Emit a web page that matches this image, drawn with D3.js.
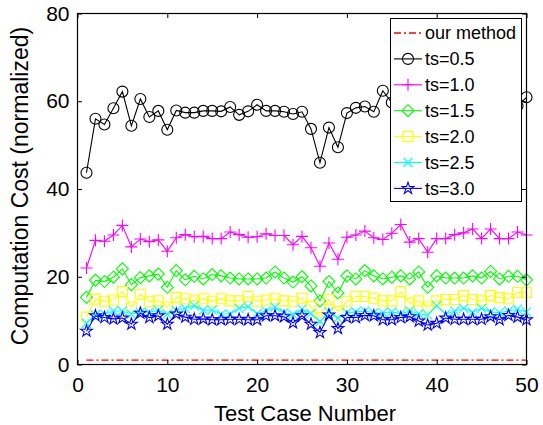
<!DOCTYPE html>
<html>
<head>
<meta charset="utf-8">
<style>
  body { margin: 0; background: #fff; }
  svg text { font-family: "Liberation Sans", Arial, Helvetica, sans-serif; fill: #000; }
</style>
</head>
<body>
<div id="chart"></div>
<script src="https://cdn.jsdelivr.net/npm/d3@7"></script>
<script>
// test cases 1..50
var testCases = d3.range(1, 51);

var ourMethod = testCases.map(function() { return 1; });

var ts05 = [43.7,56.0,54.7,58.4,62.2,54.4,60.5,56.4,57.8,53.5,57.9,57.4,57.4,57.8,57.8,57.7,58.7,56.9,57.7,59.2,
            57.8,57.8,57.6,57.1,57.6,53.7,46.0,54.0,49.5,57.3,58.5,58.8,57.6,62.4,59.7,58.5,59.2,57.8,58.0,57.5,
            58.3,59.0,58.2,57.9,58.6,59.3,58.4,57.8,58.9,60.9];
var ts10 = [22.0,28.3,28.1,29.5,31.7,26.8,28.6,28.0,28.4,25.8,28.9,29.6,29.1,29.2,28.7,28.7,30.2,29.6,29.0,29.1,
            29.8,29.4,29.4,27.3,29.2,26.6,22.4,27.7,24.0,29.0,29.5,30.4,28.9,28.5,29.9,31.9,27.9,28.7,25.6,28.7,
            28.7,29.6,30.0,30.9,28.7,30.9,28.7,28.7,30.2,29.5];
var ts15 = [15.3,19.2,18.9,19.9,21.8,18.2,19.8,20.2,20.6,17.6,21.4,19.3,20.1,19.5,20.5,20.2,19.7,19.5,19.5,19.5,
            19.7,21.1,19.7,18.8,20.0,17.9,14.5,18.9,16.3,20.2,19.5,21.4,20.2,19.5,19.9,20.2,19.5,21.1,17.6,20.2,
            19.7,19.7,19.7,20.2,19.7,21.2,19.5,20.1,20.1,19.3];
var ts20 = [10.8,14.9,14.4,14.7,16.6,13.1,16.0,14.3,14.5,13.1,15.3,15.0,14.5,15.0,14.4,15.0,14.5,14.5,15.5,14.4,
            14.7,15.0,14.5,14.4,15.1,13.2,10.7,14.8,12.1,14.4,15.5,15.5,15.1,14.5,14.5,16.6,14.0,14.5,13.1,14.5,
            14.8,14.8,15.7,14.8,14.5,15.7,15.3,15.0,16.4,16.4];
var ts25 = [9.4,11.3,11.5,12.2,12.2,11.5,11.9,11.9,12.4,11.5,12.3,12.8,13.4,12.4,12.4,11.5,11.5,12.8,13.2,11.6,
            12.2,13.1,11.8,11.4,12.6,11.6,9.8,12.0,10.5,11.8,12.0,12.2,11.8,11.8,12.0,11.6,12.2,11.6,11.3,13.4,
            11.5,12.2,12.8,11.9,12.8,12.0,11.8,12.2,12.6,12.0];
var ts30 = [7.6,11.1,10.7,10.4,10.6,9.2,11.7,10.7,11.1,9.2,11.5,10.8,10.3,10.4,10.2,10.2,10.3,10.3,10.2,10.2,
            11.1,11.1,10.9,9.5,11.1,9.2,7.3,11.3,8.2,10.7,10.7,11.2,11.1,10.2,10.2,10.7,10.9,9.9,9.0,9.4,
            10.6,10.3,10.3,10.3,10.3,10.9,10.2,11.2,10.8,10.2];

var seriesNames = ["our method", "ts=0.5", "ts=1.0", "ts=1.5", "ts=2.0", "ts=2.5", "ts=3.0"];
var xTicks = [0, 10, 20, 30, 40, 50];
var yTicks = [0, 20, 40, 60, 80];

var W = 543, H = 425;
var plotL = 77.5, plotR = 526.5, plotT = 13.5, plotB = 364.5;

var svg = d3.select("#chart").append("svg").attr("width", W).attr("height", H);

var x = d3.scaleLinear().domain([0, 50]).range([plotL, plotR]);
var y = d3.scaleLinear().domain([0, 80]).range([plotB, plotT]);

// marker paths, centred on 0,0
function markerPath(kind, r) {
	if (kind == "circle") return d3.symbol().type(d3.symbolCircle).size(Math.PI * r * r)();
	if (kind == "plus") return "M" + (-r) + ",0H" + r + "M0," + (-r) + "V" + r;
	if (kind == "diamond") return "M0," + (-r) + "L" + r + ",0L0," + r + "L" + (-r) + ",0Z";
	if (kind == "square") return "M" + (-r) + "," + (-r) + "H" + r + "V" + r + "H" + (-r) + "Z";
	if (kind == "cross") return "M" + (-r) + "," + (-r) + "L" + r + "," + r + "M" + r + "," + (-r) + "L" + (-r) + "," + r;
	if (kind == "star") return d3.symbol().type(d3.symbolStar).size(r * r / 0.89)();
	return "";
}

var series = [
	{ name: seriesNames[0], values: ourMethod, color: "#ff0000", marker: null, dash: "7,3,2,3", w: 1.4 },
	{ name: seriesNames[1], values: ts05, color: "#000000", marker: "circle", r: 5.5 },
	{ name: seriesNames[2], values: ts10, color: "#ff00ff", marker: "plus", r: 6 },
	{ name: seriesNames[3], values: ts15, color: "#00ff00", marker: "diamond", r: 6 },
	{ name: seriesNames[4], values: ts20, color: "#ffff00", marker: "square", r: 5 },
	{ name: seriesNames[5], values: ts25, color: "#00ffff", marker: "cross", r: 4.5 },
	{ name: seriesNames[6], values: ts30, color: "#0000ff", marker: "star", r: 6.2 }
];

var line = d3.line()
	.x(function(d, i) { return x(testCases[i]); })
	.y(function(d) { return y(d); });

series.forEach(function(s) {
	var g = svg.append("g");
	g.append("path")
		.attr("d", line(s.values))
		.attr("fill", "none")
		.attr("stroke", s.color)
		.attr("stroke-width", s.w || 1.1)
		.attr("stroke-dasharray", s.dash || null);
	if (s.marker) {
		g.selectAll("path.m").data(s.values).enter().append("path")
			.attr("class", "m")
			.attr("d", markerPath(s.marker, s.r))
			.attr("transform", function(d, i) { return "translate(" + x(testCases[i]) + "," + y(d) + ")"; })
			.attr("fill", "none")
			.attr("stroke", s.color)
			.attr("stroke-width", 1.1);
	}
});

// axes with inward ticks on all four sides
var tickLen = 4.5;
function styleAxis(g) {
	g.select(".domain").remove();
	g.attr("font-family", null).attr("font-size", null);
	g.selectAll("text").attr("font-size", 21);
	g.selectAll(".tick line").attr("stroke", "#000");
}
svg.append("g").attr("transform", "translate(0," + plotB + ")")
	.call(d3.axisBottom(x).tickValues(xTicks).tickSizeInner(-tickLen).tickSizeOuter(0).tickPadding(12.5))
	.call(styleAxis);
svg.append("g").attr("transform", "translate(0," + plotT + ")")
	.call(d3.axisTop(x).tickValues(xTicks).tickSizeInner(-tickLen).tickSizeOuter(0).tickFormat(""))
	.call(styleAxis);
svg.append("g").attr("transform", "translate(" + plotL + ",0)")
	.call(d3.axisLeft(y).tickValues(yTicks).tickSizeInner(-tickLen).tickSizeOuter(0).tickPadding(8))
	.call(styleAxis);
svg.append("g").attr("transform", "translate(" + plotR + ",0)")
	.call(d3.axisRight(y).tickValues(yTicks).tickSizeInner(-tickLen).tickSizeOuter(0).tickFormat(""))
	.call(styleAxis);

svg.append("rect")
	.attr("x", plotL).attr("y", plotT)
	.attr("width", plotR - plotL).attr("height", plotB - plotT)
	.attr("fill", "none").attr("stroke", "#000").attr("stroke-width", 1.2);

// axis labels
svg.append("text")
	.attr("x", (plotL + plotR) / 2 + 3).attr("y", 421)
	.attr("text-anchor", "middle").attr("font-size", 22)
	.text("Test Case Number");
svg.append("text")
	.attr("transform", "translate(28," + ((plotT + plotB) / 2 - 3) + ") rotate(-90)")
	.attr("text-anchor", "middle").attr("font-size", 23)
	.text("Computation Cost (normalized)");

// legend
var lg = svg.append("g");
lg.append("rect")
	.attr("x", 390.5).attr("y", 18.5).attr("width", 131).attr("height", 183)
	.attr("fill", "#fff").attr("stroke", "#000").attr("stroke-width", 1);
series.forEach(function(s, i) {
	var cy = 33 + i * 25.9;
	lg.append("line")
		.attr("x1", 394).attr("x2", 422).attr("y1", cy).attr("y2", cy)
		.attr("stroke", s.color).attr("stroke-width", s.w || 1.1)
		.attr("stroke-dasharray", s.dash || null);
	if (s.marker) {
		lg.append("path")
			.attr("d", markerPath(s.marker, s.r))
			.attr("transform", "translate(408," + cy + ")")
			.attr("fill", "none").attr("stroke", s.color).attr("stroke-width", 1.1);
	}
	lg.append("text")
		.attr("x", 425).attr("y", cy).attr("dy", "0.35em")
		.attr("font-size", 18)
		.text(s.name);
});
</script>
</body>
</html>
